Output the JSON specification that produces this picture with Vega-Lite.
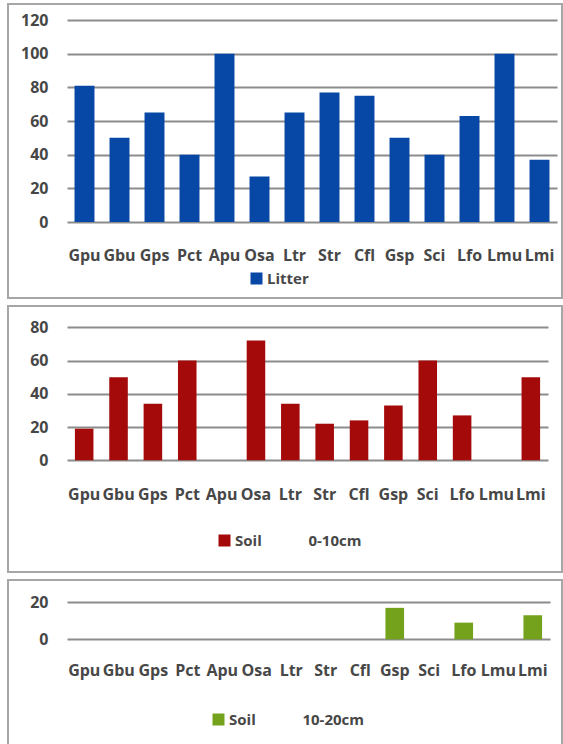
{
  "$schema": "https://vega.github.io/schema/vega-lite/v6.json",
  "padding": {"left": 7, "top": 3, "right": 0, "bottom": 0},
  "autosize": {"type": "pad"},
  "spacing": 6,
  "resolve": {"scale": {"color": "independent"}, "legend": {"color": "independent"}},
  "config": {
    "view": {"stroke": "#a6a6a6", "strokeWidth": 2},
    "axis": {
      "labelFont": "Open Sans",
      "labelFontSize": 16,
      "labelFontWeight": "bold",
      "labelColor": "#474747",
      "ticks": false,
      "domain": false,
      "title": null,
      "gridColor": "#8c8c8c",
      "gridWidth": 2,
      "gridOpacity": 1,
      "labelOverlap": false
    },
    "legend": {
      "labelFont": "Open Sans",
      "labelFontSize": 15,
      "labelFontWeight": "bold",
      "labelColor": "#474747",
      "symbolType": "square",
      "symbolSize": 144,
      "symbolStrokeWidth": 0,
      "labelOffset": 3,
      "padding": 0,
      "title": null,
      "labelLimit": 300
    }
  },
  "datasets": {
    "litter": [
      {"species": "Gpu", "value": 81, "series": "Litter"},
      {"species": "Gbu", "value": 50, "series": "Litter"},
      {"species": "Gps", "value": 65, "series": "Litter"},
      {"species": "Pct", "value": 40, "series": "Litter"},
      {"species": "Apu", "value": 100, "series": "Litter"},
      {"species": "Osa", "value": 27, "series": "Litter"},
      {"species": "Ltr", "value": 65, "series": "Litter"},
      {"species": "Str", "value": 77, "series": "Litter"},
      {"species": "Cfl", "value": 75, "series": "Litter"},
      {"species": "Gsp", "value": 50, "series": "Litter"},
      {"species": "Sci", "value": 40, "series": "Litter"},
      {"species": "Lfo", "value": 63, "series": "Litter"},
      {"species": "Lmu", "value": 100, "series": "Litter"},
      {"species": "Lmi", "value": 37, "series": "Litter"}
    ],
    "soil1": [
      {"species": "Gpu", "value": 19, "series": "Soil\u00a0\u00a0\u00a0\u00a0\u00a0\u00a0\u00a0\u00a0\u00a0\u00a0\u00a0\u00a00-10cm"},
      {"species": "Gbu", "value": 50, "series": "Soil\u00a0\u00a0\u00a0\u00a0\u00a0\u00a0\u00a0\u00a0\u00a0\u00a0\u00a0\u00a00-10cm"},
      {"species": "Gps", "value": 34, "series": "Soil\u00a0\u00a0\u00a0\u00a0\u00a0\u00a0\u00a0\u00a0\u00a0\u00a0\u00a0\u00a00-10cm"},
      {"species": "Pct", "value": 60, "series": "Soil\u00a0\u00a0\u00a0\u00a0\u00a0\u00a0\u00a0\u00a0\u00a0\u00a0\u00a0\u00a00-10cm"},
      {"species": "Apu", "value": 0, "series": "Soil\u00a0\u00a0\u00a0\u00a0\u00a0\u00a0\u00a0\u00a0\u00a0\u00a0\u00a0\u00a00-10cm"},
      {"species": "Osa", "value": 72, "series": "Soil\u00a0\u00a0\u00a0\u00a0\u00a0\u00a0\u00a0\u00a0\u00a0\u00a0\u00a0\u00a00-10cm"},
      {"species": "Ltr", "value": 34, "series": "Soil\u00a0\u00a0\u00a0\u00a0\u00a0\u00a0\u00a0\u00a0\u00a0\u00a0\u00a0\u00a00-10cm"},
      {"species": "Str", "value": 22, "series": "Soil\u00a0\u00a0\u00a0\u00a0\u00a0\u00a0\u00a0\u00a0\u00a0\u00a0\u00a0\u00a00-10cm"},
      {"species": "Cfl", "value": 24, "series": "Soil\u00a0\u00a0\u00a0\u00a0\u00a0\u00a0\u00a0\u00a0\u00a0\u00a0\u00a0\u00a00-10cm"},
      {"species": "Gsp", "value": 33, "series": "Soil\u00a0\u00a0\u00a0\u00a0\u00a0\u00a0\u00a0\u00a0\u00a0\u00a0\u00a0\u00a00-10cm"},
      {"species": "Sci", "value": 60, "series": "Soil\u00a0\u00a0\u00a0\u00a0\u00a0\u00a0\u00a0\u00a0\u00a0\u00a0\u00a0\u00a00-10cm"},
      {"species": "Lfo", "value": 27, "series": "Soil\u00a0\u00a0\u00a0\u00a0\u00a0\u00a0\u00a0\u00a0\u00a0\u00a0\u00a0\u00a00-10cm"},
      {"species": "Lmu", "value": 0, "series": "Soil\u00a0\u00a0\u00a0\u00a0\u00a0\u00a0\u00a0\u00a0\u00a0\u00a0\u00a0\u00a00-10cm"},
      {"species": "Lmi", "value": 50, "series": "Soil\u00a0\u00a0\u00a0\u00a0\u00a0\u00a0\u00a0\u00a0\u00a0\u00a0\u00a0\u00a00-10cm"}
    ],
    "soil2": [
      {"species": "Gpu", "value": 0, "series": "Soil\u00a0\u00a0\u00a0\u00a0\u00a0\u00a0\u00a0\u00a0\u00a0\u00a0\u00a0\u00a010-20cm"},
      {"species": "Gbu", "value": 0, "series": "Soil\u00a0\u00a0\u00a0\u00a0\u00a0\u00a0\u00a0\u00a0\u00a0\u00a0\u00a0\u00a010-20cm"},
      {"species": "Gps", "value": 0, "series": "Soil\u00a0\u00a0\u00a0\u00a0\u00a0\u00a0\u00a0\u00a0\u00a0\u00a0\u00a0\u00a010-20cm"},
      {"species": "Pct", "value": 0, "series": "Soil\u00a0\u00a0\u00a0\u00a0\u00a0\u00a0\u00a0\u00a0\u00a0\u00a0\u00a0\u00a010-20cm"},
      {"species": "Apu", "value": 0, "series": "Soil\u00a0\u00a0\u00a0\u00a0\u00a0\u00a0\u00a0\u00a0\u00a0\u00a0\u00a0\u00a010-20cm"},
      {"species": "Osa", "value": 0, "series": "Soil\u00a0\u00a0\u00a0\u00a0\u00a0\u00a0\u00a0\u00a0\u00a0\u00a0\u00a0\u00a010-20cm"},
      {"species": "Ltr", "value": 0, "series": "Soil\u00a0\u00a0\u00a0\u00a0\u00a0\u00a0\u00a0\u00a0\u00a0\u00a0\u00a0\u00a010-20cm"},
      {"species": "Str", "value": 0, "series": "Soil\u00a0\u00a0\u00a0\u00a0\u00a0\u00a0\u00a0\u00a0\u00a0\u00a0\u00a0\u00a010-20cm"},
      {"species": "Cfl", "value": 0, "series": "Soil\u00a0\u00a0\u00a0\u00a0\u00a0\u00a0\u00a0\u00a0\u00a0\u00a0\u00a0\u00a010-20cm"},
      {"species": "Gsp", "value": 17, "series": "Soil\u00a0\u00a0\u00a0\u00a0\u00a0\u00a0\u00a0\u00a0\u00a0\u00a0\u00a0\u00a010-20cm"},
      {"species": "Sci", "value": 0, "series": "Soil\u00a0\u00a0\u00a0\u00a0\u00a0\u00a0\u00a0\u00a0\u00a0\u00a0\u00a0\u00a010-20cm"},
      {"species": "Lfo", "value": 9, "series": "Soil\u00a0\u00a0\u00a0\u00a0\u00a0\u00a0\u00a0\u00a0\u00a0\u00a0\u00a0\u00a010-20cm"},
      {"species": "Lmu", "value": 0, "series": "Soil\u00a0\u00a0\u00a0\u00a0\u00a0\u00a0\u00a0\u00a0\u00a0\u00a0\u00a0\u00a010-20cm"},
      {"species": "Lmi", "value": 13, "series": "Soil\u00a0\u00a0\u00a0\u00a0\u00a0\u00a0\u00a0\u00a0\u00a0\u00a0\u00a0\u00a010-20cm"}
    ]
  },
  "vconcat": [
    {
      "width": 554,
      "height": 294,
      "data": {"name": "litter"},
      "mark": {"type": "bar"},
      "encoding": {
        "x": {
          "field": "species", "type": "nominal", "sort": null,
          "scale": {"range": [59, 549], "paddingInner": 0.43, "paddingOuter": 0.215},
          "axis": {"labelAngle": 0, "offset": -51, "labelPadding": 0, "grid": false}
        },
        "y": {
          "field": "value", "type": "quantitative",
          "scale": {"domain": [0, 120], "range": [218, 16], "nice": false, "zero": true},
          "axis": {"values": [0, 20, 40, 60, 80, 100, 120], "offset": -42, "labelPadding": 2, "grid": true}
        },
        "color": {
          "field": "series", "type": "nominal",
          "scale": {"range": ["#0747a6"]},
          "legend": {"orient": "none", "legendX": 241, "legendY": 267}
        }
      }
    },
    {
      "width": 554,
      "height": 266,
      "data": {"name": "soil1"},
      "mark": {"type": "bar"},
      "encoding": {
        "x": {
          "field": "species", "type": "nominal", "sort": null,
          "scale": {"range": [59, 540], "paddingInner": 0.46, "paddingOuter": 0.23},
          "axis": {"labelAngle": 0, "offset": -86, "labelPadding": 0, "grid": false}
        },
        "y": {
          "field": "value", "type": "quantitative",
          "scale": {"domain": [0, 80], "range": [154.3, 21.3], "nice": false, "zero": true},
          "axis": {"values": [0, 20, 40, 60, 80], "offset": -42, "labelPadding": 2, "grid": true}
        },
        "color": {
          "field": "series", "type": "nominal",
          "scale": {"range": ["#a50a0a"]},
          "legend": {"orient": "none", "legendX": 209, "legendY": 227}
        }
      }
    },
    {
      "width": 554,
      "height": 168,
      "data": {"name": "soil2"},
      "mark": {"type": "bar"},
      "encoding": {
        "x": {
          "field": "species", "type": "nominal", "sort": null,
          "scale": {"range": [59, 542], "paddingInner": 0.46, "paddingOuter": 0.23},
          "axis": {"labelAngle": 0, "offset": -86, "labelPadding": 0, "grid": false}
        },
        "y": {
          "field": "value", "type": "quantitative",
          "scale": {"domain": [0, 20], "range": [59.3, 22.3], "nice": false, "zero": true},
          "axis": {"values": [0, 20], "offset": -42, "labelPadding": 2, "grid": true}
        },
        "color": {
          "field": "series", "type": "nominal",
          "scale": {"range": ["#74a21c"]},
          "legend": {"orient": "none", "legendX": 203, "legendY": 132}
        }
      }
    }
  ]
}
